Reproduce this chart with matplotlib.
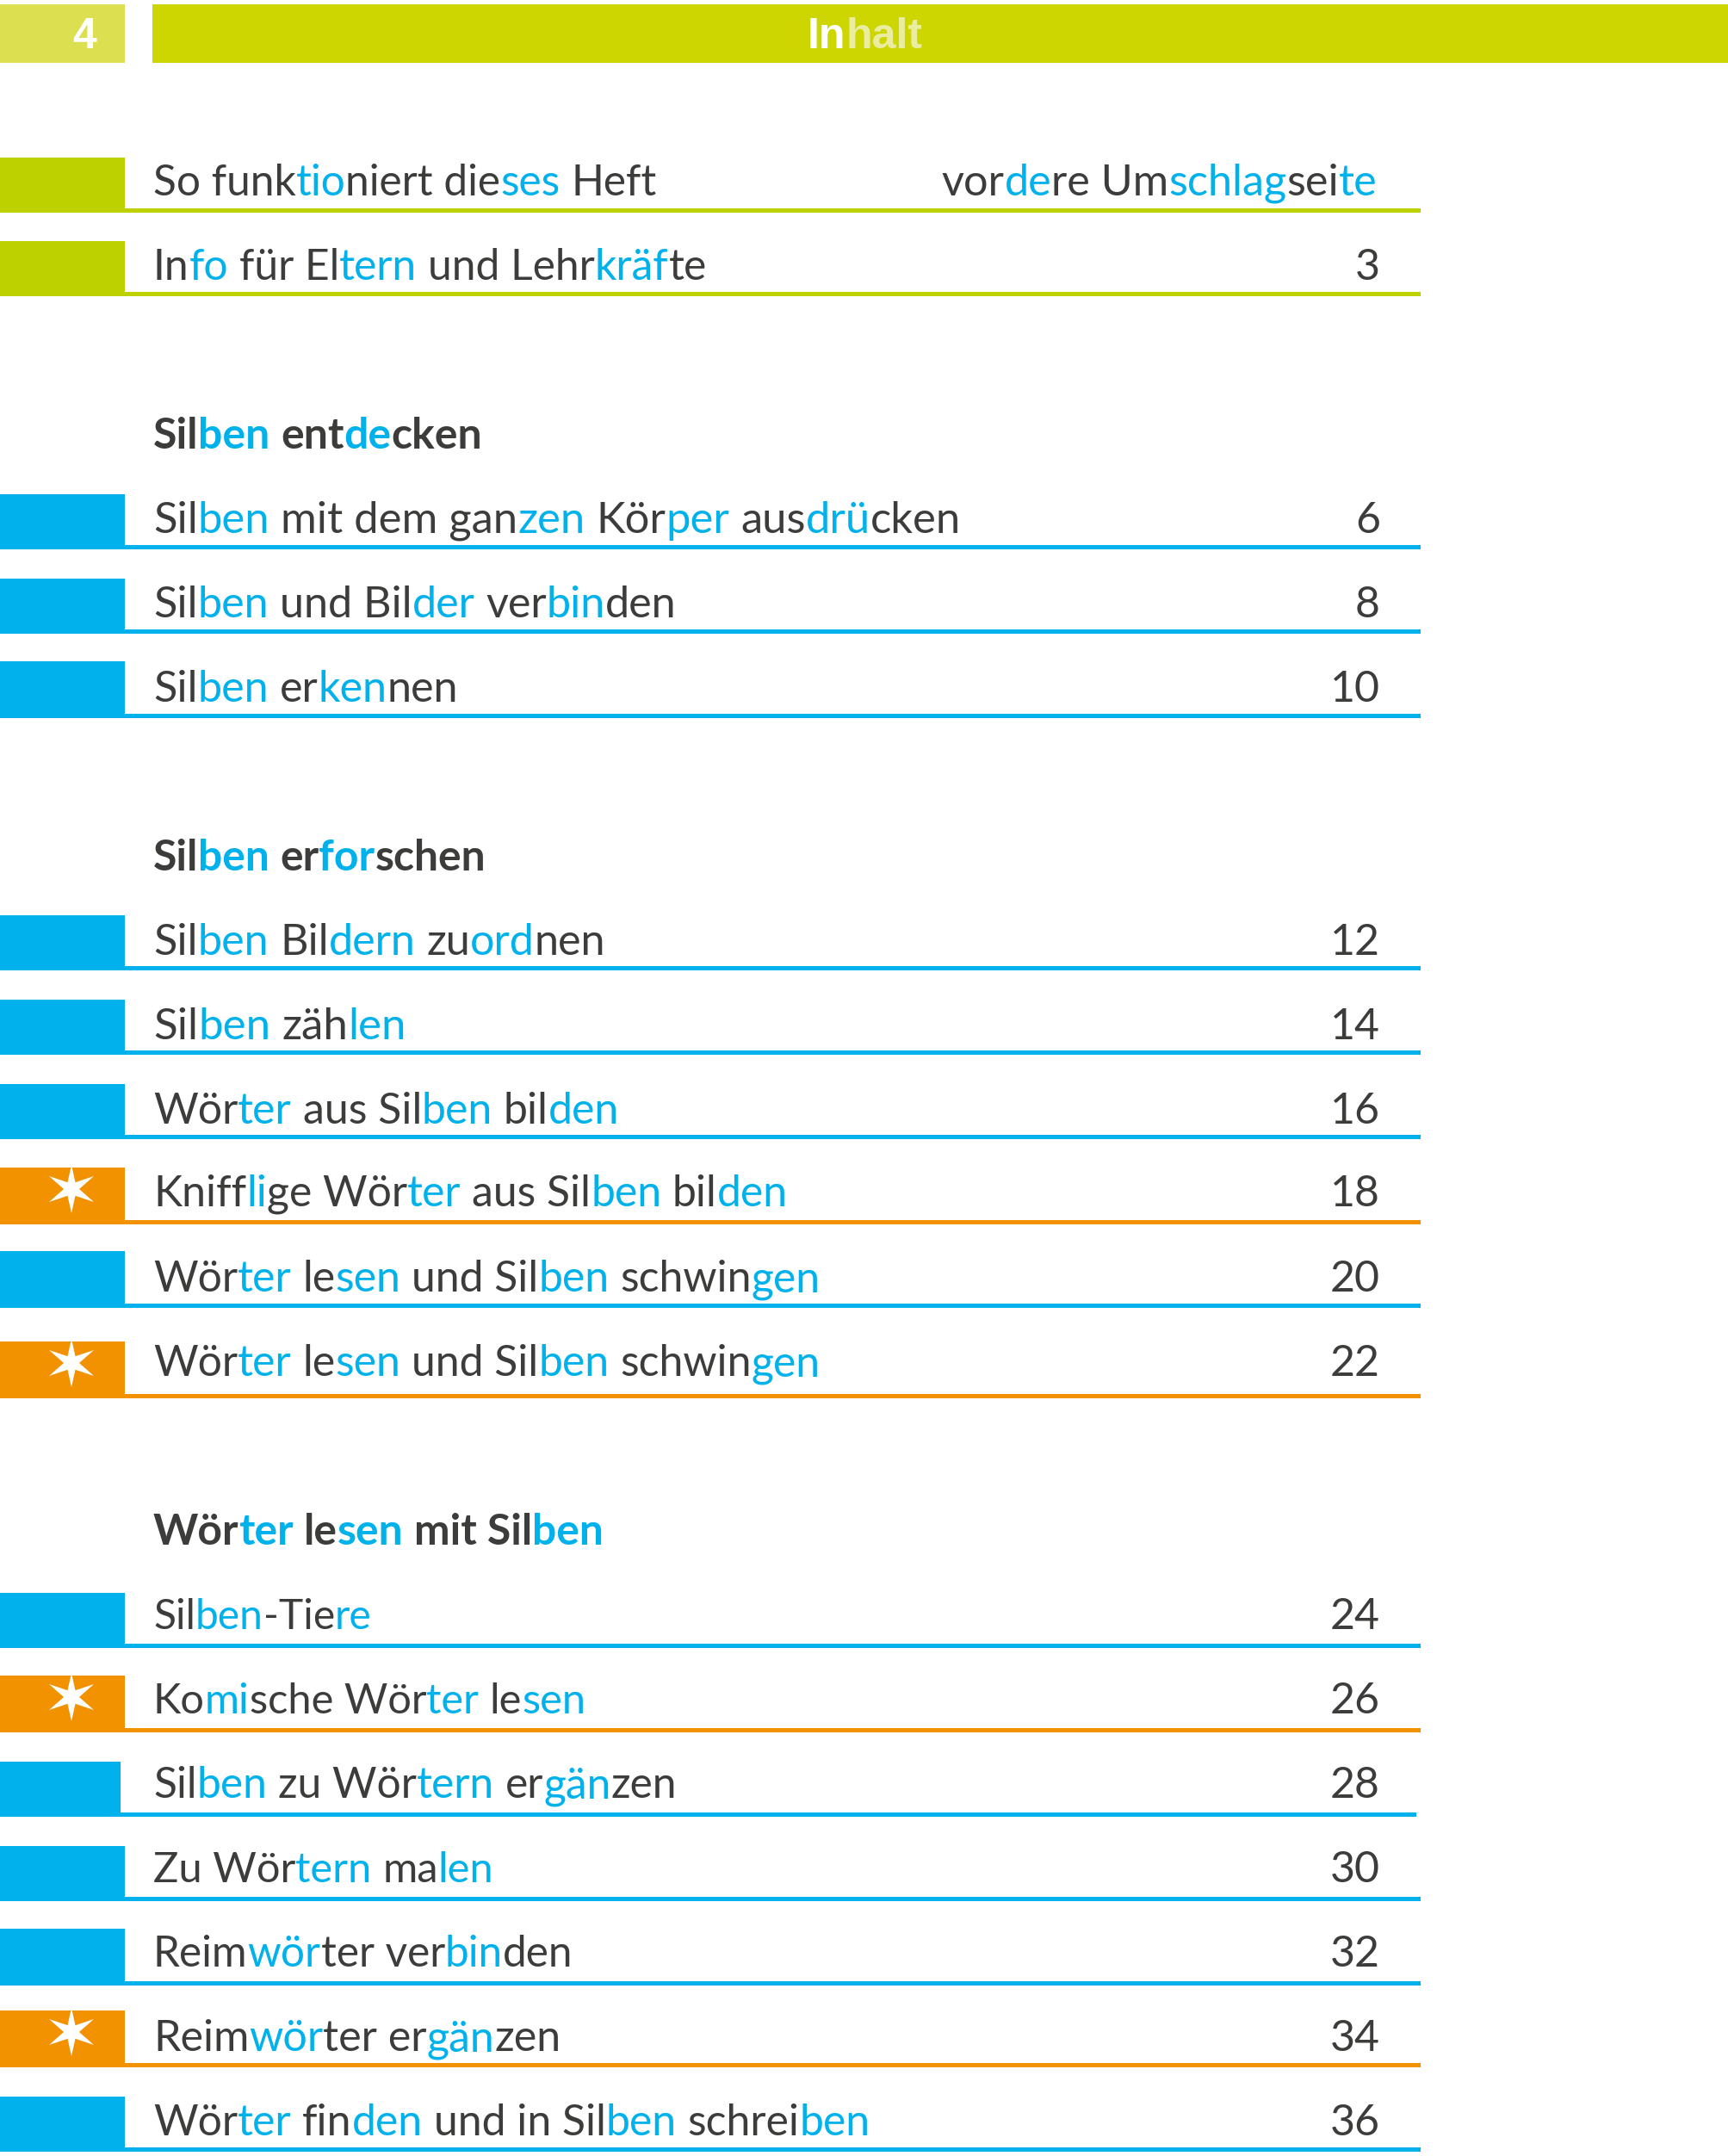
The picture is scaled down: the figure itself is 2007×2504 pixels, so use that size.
import matplotlib
matplotlib.use('Agg')
import matplotlib.pyplot as plt
from matplotlib.patches import Rectangle, Polygon
from matplotlib.font_manager import FontProperties
import numpy as np

# | switches between dark and blue syllables
titel = ['So funk|tio|niert die|ses| Heft',
         'In|fo| für El|tern| und Lehr|kräf|te',
         'Sil|ben| mit dem gan|zen| Kör|per| aus|drü|cken',
         'Sil|ben| und Bil|der| ver|bin|den',
         'Sil|ben| er|ken|nen',
         'Sil|ben| Bil|dern| zu|ord|nen',
         'Sil|ben| zäh|len',
         'Wör|ter| aus Sil|ben| bil|den',
         'Kniff|li|ge Wör|ter| aus Sil|ben| bil|den',
         'Wör|ter| le|sen| und Sil|ben| schwin|gen',
         'Wör|ter| le|sen| und Sil|ben| schwin|gen',
         'Sil|ben|-Tie|re',
         'Ko|mi|sche Wör|ter| le|sen',
         'Sil|ben| zu Wör|tern| er|gän|zen',
         'Zu Wör|tern| ma|len',
         'Reim|wör|ter ver|bin|den',
         'Reim|wör|ter er|gän|zen',
         'Wör|ter| fin|den| und in Sil|ben| schrei|ben']
seiten = ['vor|de|re Um|schlag|sei|te', '3', '6', '8', '10', '12', '14', '16', '18',
          '20', '22', '24', '26', '28', '30', '32', '34', '36']
art = ['g', 'g', 'b', 'b', 'b', 'b', 'b', 'b', 's', 'b', 's', 'b', 's', 'b', 'b', 'b', 's', 'b']
abschnitte = ['Sil|ben| ent|de|cken', 'Sil|ben| er|for|schen', 'Wör|ter| le|sen| mit Sil|ben']
seitenzahl = '4'
kopf_weiss = 'In'
kopf_hell = 'halt'

# Layout der Seite in Pixeln
zeile_oben = [183, 280, 574, 672, 768, 1063, 1161, 1259, 1356, 1453, 1558, 1850, 1946, 2046, 2144, 2240, 2335, 2435]
zeile_unten = [247, 344, 638, 736, 834, 1127, 1225, 1323, 1422, 1519, 1624, 1914, 2012, 2110, 2208, 2306, 2401, 2499]
zeile_basis = [227, 325, 619, 717, 815, 1109, 1207, 1305, 1401, 1500, 1598, 1892, 1990, 2088, 2186, 2284, 2382, 2480]
# rechtes Textende je Zeile, damit die Laenge zum Original passt
zeile_ende = [763, 821, 1115, 786, 532, 704, 471, 719, 914, 952, 952, 432, 680, 786, 573, 666, 652, 1010]
abschnitt_basis = [521, 1011, 1794]
abschnitt_ende = [560, 564, 702]
TEXT_LINKS = 178

GRUEN = '#BDD000'
BLAU = '#00B1EB'
ORANGE = '#F39200'
DUNKEL = '#3C3C3B'
farben = {'g': GRUEN, 'b': BLAU, 's': ORANGE}

fig = plt.figure(figsize=(20.08, 25.04), dpi=100)
ax = fig.add_axes([0, 0, 1, 1])
ax.set_xlim(0, 2008)
ax.set_ylim(2504, 0)
ax.axis('off')
renderer = fig.canvas.get_renderer()


def breite(s, fp):
    w1 = renderer.get_text_width_height_descent(s + '|', fp, False)[0]
    w2 = renderer.get_text_width_height_descent('|', fp, False)[0]
    return w1 - w2


def silben_text(text, x, y, size, weight='normal', rechts=False, ende=None):
    fp = FontProperties(family='Lato', size=size, weight=weight)
    teile = text.split('|')
    if ende is not None:
        # Schriftgroesse an die Zeilenlaenge anpassen
        fp.set_size(size * (ende - x) / breite(''.join(teile), fp))
    if rechts:
        x = x - breite(''.join(teile), fp)
    davor = ''
    for i, teil in enumerate(teile):
        leer = len(teil) - len(teil.lstrip())
        xs = x + breite(davor + teil[:leer], fp)
        ax.text(xs, y, teil.strip(), color=BLAU if i % 2 else DUNKEL, fontproperties=fp,
                ha='left', va='baseline')
        davor += teil


def stern(cx, cy):
    punkte = []
    for k in range(6):
        a = np.pi / 2 + k * np.pi / 3
        r = 28 if k % 3 == 0 else 30
        punkte.append((cx + r * np.cos(a), cy - r * np.sin(a)))
        a2 = a + np.pi / 6
        punkte.append((cx + 9 * np.cos(a2), cy - 9 * np.sin(a2)))
    ax.add_patch(Polygon(punkte, closed=True, facecolor='white', edgecolor='none', zorder=3))


# Kopfzeile
ax.add_patch(Rectangle((0, 5), 145, 68, facecolor='#DCDF50', edgecolor='none'))
ax.add_patch(Rectangle((177, 5), 1831, 68, facecolor='#CDD600', edgecolor='none'))
kopf_fp = FontProperties(family='Liberation Sans', size=36, weight='bold')
ax.text(98, 56, seitenzahl, color='white', fontproperties=kopf_fp, ha='center', va='baseline')
ax.text(938, 56, kopf_weiss, color='white', fontproperties=kopf_fp, ha='left', va='baseline')
ax.text(938 + breite(kopf_weiss, kopf_fp), 56, kopf_hell, color='#EAEDA0', fontproperties=kopf_fp,
        ha='left', va='baseline')

for i in range(len(titel)):
    farbe = farben[art[i]]
    oben, unten = zeile_oben[i], zeile_unten[i]
    kasten = 140 if i == 13 else 145
    ende = 1645 if i == 13 else 1650
    dicke = 5.5 if art[i] == 's' else 5
    ax.add_patch(Rectangle((0, oben), kasten, unten - oben, facecolor=farbe, edgecolor='none'))
    ax.add_patch(Rectangle((kasten, unten - dicke), ende - kasten, dicke, facecolor=farbe, edgecolor='none'))
    if art[i] == 's':
        stern(83, oben + 25)
    silben_text(titel[i], TEXT_LINKS, zeile_basis[i], 36, ende=zeile_ende[i])
    if i == 0:
        silben_text(seiten[i], 1600, zeile_basis[i], 36.3, rechts=True)
    else:
        silben_text(seiten[i], 1603, zeile_basis[i], 36, rechts=True)

for text, y, e in zip(abschnitte, abschnitt_basis, abschnitt_ende):
    silben_text(text, TEXT_LINKS, y, 36, weight='bold', ende=e)

fig.savefig('out.png', dpi=100, facecolor='white')
